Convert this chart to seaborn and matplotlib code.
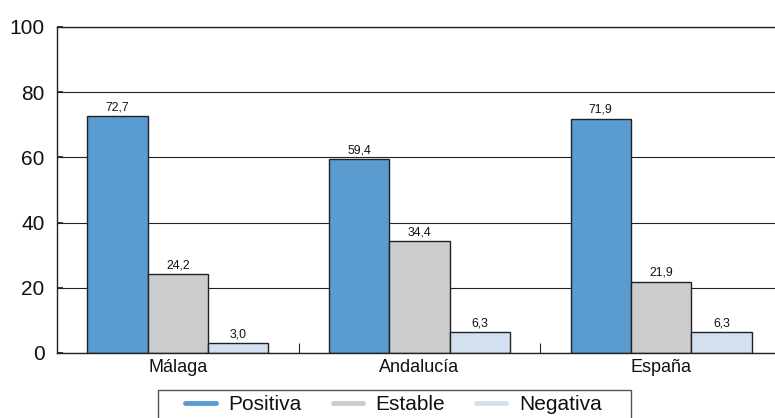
import matplotlib
matplotlib.use("Agg")
import matplotlib.pyplot as plt
import seaborn as sns
import pandas as pd
from matplotlib.lines import Line2D
from matplotlib.patches import Rectangle

regions = ["Málaga", "Andalucía", "España"]
series = ["Positiva", "Estable", "Negativa"]
positiva = [72.7, 59.4, 71.9]
estable = [24.2, 34.4, 21.9]
negativa = [3.0, 6.3, 6.3]
colors = ["#5a9bd0", "#cccccc", "#d3e0f0"]

rows = []
for s, vals in zip(series, [positiva, estable, negativa]):
    for r, v in zip(regions, vals):
        rows.append({"region": r, "tipo": s, "valor": v})
df = pd.DataFrame(rows)

sns.set_theme(style="white")
plt.rcParams["font.family"] = ["Liberation Sans", "DejaVu Sans"]

fig = plt.figure(figsize=(7.75, 4.18), dpi=100)
ax = fig.add_axes([57/775, 65/418, 1 - 57/775, (353-27)/418])

sns.barplot(data=df, x="region", y="valor", hue="tipo", order=regions,
            hue_order=series, palette=colors, saturation=1, width=0.75,
            edgecolor="#222222", linewidth=1.0, ax=ax, legend=False)

for cont in ax.containers:
    labels = [f"{v:.1f}".replace(".", ",") for v in cont.datavalues]
    ax.bar_label(cont, labels=labels, padding=2, fontsize=8.8, color="#111111")

ax.set_ylim(0, 100)
ax.set_xlim(-0.5, 2.5 - 7/242)
ax.set_yticks([0, 20, 40, 60, 80, 100])
ax.set_yticklabels(["0", "20", "40", "60", "80", "100"], fontsize=15, color="#111111")
ax.set_xlabel("")
ax.set_ylabel("")
ax.tick_params(axis="x", which="major", labelsize=13, labelcolor="#111111",
               length=0, pad=4, bottom=False)
ax.tick_params(axis="y", direction="in", length=4, pad=9, color="#222222", left=True)
# category boundary ticks
ax.set_xticks([0.5, 1.5], minor=True)
ax.tick_params(axis="x", which="minor", direction="in", length=7, width=0.8,
               color="#222222", bottom=True)

ax.yaxis.grid(True, color="#222222", linewidth=0.8)
ax.set_axisbelow(True)
ax.spines["right"].set_visible(False)
for side in ["left", "bottom", "top"]:
    ax.spines[side].set_color("#222222")
    ax.spines[side].set_linewidth(1.0)

handles = [Line2D([0], [0], color=c, lw=3.5) for c in colors]
leg = fig.legend(handles, series, loc="upper center", bbox_to_anchor=(393.5/775, 1 - 395/418),
                 ncol=3, fontsize=15, frameon=False,
                 handlelength=1.45, columnspacing=1.5,
                 borderpad=0.0, borderaxespad=0, handletextpad=0.6,
                 labelcolor="#111111")
# legend frame (wider than content, as in the reference)
fig.patches.append(Rectangle((158/775, -0.02), (631-158)/775, (418-390)/418 + 0.02,
                             transform=fig.transFigure, fill=False,
                             edgecolor="#555555", linewidth=1.0))

fig.savefig("out.png", dpi=100)
